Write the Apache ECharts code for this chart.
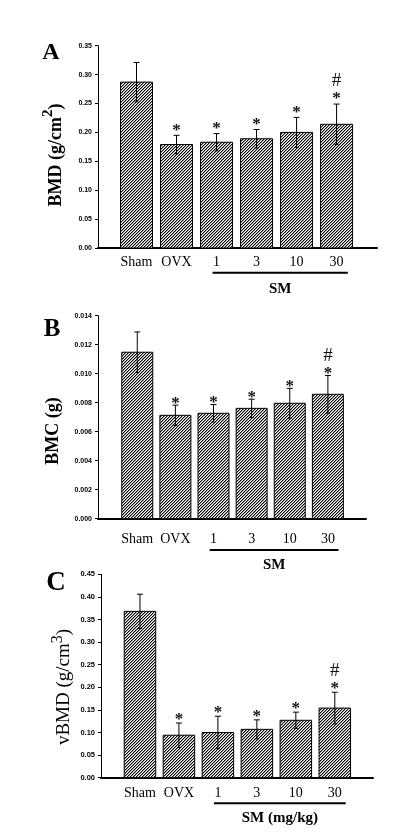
<!DOCTYPE html>
<html><head><meta charset="utf-8">
<script src="https://cdn.jsdelivr.net/npm/echarts@6/dist/echarts.min.js"></script>
<style>html,body{margin:0;padding:0;background:#fff}#c{width:403px;height:833px}</style>
</head><body><div id="c"></div>
<script>
// ---- data ----
const categories = ['Sham', 'OVX', '1', '3', '10', '30'];
const bmdMean  = [0.287, 0.179, 0.183, 0.189, 0.200, 0.214];
const bmdSD    = [0.034, 0.016, 0.015, 0.016, 0.026, 0.035];
const bmcMean  = [0.01148, 0.00713, 0.00727, 0.00761, 0.00796, 0.00858];
const bmcSD    = [0.0014, 0.0007, 0.0006, 0.00063, 0.00103, 0.0013];
const vbmdMean = [0.368, 0.094, 0.100, 0.107, 0.127, 0.154];
const vbmdSD   = [0.038, 0.027, 0.036, 0.021, 0.018, 0.035];
const marks    = ['', '*', '*', '*', '*', '*#'];
const bmdAxis  = {max: 0.35, interval: 0.05, decimals: 2};
const bmcAxis  = {max: 0.014, interval: 0.002, decimals: 3};
const vbmdAxis = {max: 0.45, interval: 0.05, decimals: 2};
const groupLabels = ['SM', 'SM', 'SM (mg/kg)'];

// ---- hatch pattern ----
function makePattern() {
  const c = document.createElement('canvas');
  c.width = 6; c.height = 6;
  const ctx = c.getContext('2d');
  const img = ctx.createImageData(6, 6);
  for (let y = 0; y < 6; y++) for (let x = 0; x < 6; x++) {
    const k = ((x + y) % 3 + 3) % 3;
    const v = k === 0 ? 0 : (k === 1 ? 150 : 255);
    const p = (y * 6 + x) * 4;
    img.data[p] = v; img.data[p + 1] = v; img.data[p + 2] = v; img.data[p + 3] = 255;
  }
  ctx.putImageData(img, 0, 0);
  return {image: c, repeat: 'repeat'};
}
const hatch = makePattern();

const SERIF = 'Liberation Serif';
const panels = [
  {mean: bmdMean, sd: bmdSD, ax: bmdAxis, left: 98, right: 26, top: 45.7, height: 202.3, xmin: -0.9625, xmax: 6.01, bw: 32, labelGap: 14.7, lineGap: 24.7, smGap: 41, starGap: 8, tickFont: 7},
  {mean: bmcMean, sd: bmcSD, ax: bmcAxis, left: 98, right: 37, top: 315.7, height: 203, xmin: -1.03, xmax: 6.0, bw: 31, labelGap: 20.6, lineGap: 31.3, smGap: 46.5, starGap: 4.5, tickFont: 7},
  {mean: vbmdMean, sd: vbmdSD, ax: vbmdAxis, left: 101, right: 30, top: 574.3, height: 203.4, xmin: -1.0, xmax: 5.98, bw: 31.5, labelGap: 15.6, lineGap: 25.6, smGap: 40.5, starGap: 6.5, tickFont: 7.5}
];

const grid = [], xAxis = [], yAxis = [], series = [];
panels.forEach((p, gi) => {
  grid.push({left: p.left, right: p.right, top: p.top, height: p.height});
  xAxis.push({type: 'value', gridIndex: gi, min: p.xmin, max: p.xmax,
    axisLine: {show: true, lineStyle: {color: '#000', width: 2}},
    axisTick: {show: false}, axisLabel: {show: false}, splitLine: {show: false}});
  yAxis.push({type: 'value', gridIndex: gi, min: 0, max: p.ax.max, interval: p.ax.interval,
    axisLine: {show: true, onZero: false, lineStyle: {color: '#000', width: 1}},
    axisTick: {show: true, inside: false, length: 3, lineStyle: {color: '#000'}},
    axisLabel: {fontSize: p.tickFont, fontWeight: 'bold', fontFamily: 'Liberation Sans', color: '#000', margin: 6,
      formatter: v => v.toFixed(p.ax.decimals)},
    splitLine: {show: false}});
  series.push({
    type: 'custom', xAxisIndex: gi, yAxisIndex: gi, clip: false,
    data: categories.map((c, i) => [i, p.mean[i], p.sd[i]]),
    renderItem: (params, api) => {
      const i = api.value(0), m = api.value(1), s = api.value(2);
      const base = api.coord([i, 0]);
      const top = api.coord([i, m]);
      const eT = api.coord([i, m + s]);
      const eB = api.coord([i, m - s]);
      const cx = base[0];
      const children = [
        {type: 'rect', shape: {x: cx - p.bw / 2, y: top[1], width: p.bw, height: base[1] - top[1]},
          style: {fill: hatch, stroke: '#000', lineWidth: 1}},
        {type: 'line', shape: {x1: cx, y1: eT[1], x2: cx, y2: eB[1]}, style: {stroke: '#000', lineWidth: 1}},
        {type: 'line', shape: {x1: cx - 3, y1: eT[1], x2: cx + 3, y2: eT[1]}, style: {stroke: '#000', lineWidth: 1}},
        {type: 'line', shape: {x1: cx - 2, y1: eB[1], x2: cx + 2, y2: eB[1]}, style: {stroke: '#000', lineWidth: 1}},
        {type: 'text', style: {text: categories[params.dataIndex], x: cx, y: base[1] + p.labelGap,
          align: 'center', verticalAlign: 'middle', font: '14px "' + SERIF + '"', fill: '#000'}}
      ];
      const mk = marks[params.dataIndex];
      if (mk.indexOf('*') >= 0) {
        children.push({type: 'text', style: {text: '*', x: cx, y: eT[1] - p.starGap + 3,
          align: 'center', verticalAlign: 'middle', font: 'bold 17px "' + SERIF + '"', fill: '#111'}});
      }
      if (mk.indexOf('#') >= 0) {
        children.push({type: 'text', style: {text: '#', x: cx, y: eT[1] - p.starGap - 15,
          align: 'center', verticalAlign: 'middle', font: '19px "' + SERIF + '"', fill: '#111'}});
      }
      return {type: 'group', children};
    }
  });
  // SM group underline and label
  series.push({
    type: 'custom', xAxisIndex: gi, yAxisIndex: gi, clip: false, silent: true,
    data: [[2, 5]],
    renderItem: (params, api) => {
      const a = api.coord([api.value(0) - 0.1, 0]);
      const b = api.coord([api.value(1) + 0.28, 0]);
      const mid = (a[0] + b[0]) / 2;
      return {type: 'group', children: [
        {type: 'line', shape: {x1: a[0], y1: a[1] + p.lineGap, x2: b[0], y2: a[1] + p.lineGap}, style: {stroke: '#000', lineWidth: 2}},
        {type: 'text', style: {text: groupLabels[gi], x: mid, y: a[1] + p.smGap, align: 'center', verticalAlign: 'middle',
          font: 'bold 15px "' + SERIF + '"', fill: '#000'}}
      ]};
    }
  });
});

const graphic = [
  {type: 'text', x: 51, y: 53, style: {text: 'A', font: 'bold 24px "' + SERIF + '"', align: 'center', verticalAlign: 'middle', fill: '#000'}},
  {type: 'text', x: 52, y: 330, style: {text: 'B', font: 'bold 25px "' + SERIF + '"', align: 'center', verticalAlign: 'middle', fill: '#000'}},
  {type: 'text', x: 56, y: 583, style: {text: 'C', font: 'bold 27px "' + SERIF + '"', align: 'center', verticalAlign: 'middle', fill: '#000'}},
  {type: 'text', x: 53, y: 155, rotation: Math.PI / 2, style: {text: '{a|BMD (g/cm}{s|2}{a|)}', align: 'center', verticalAlign: 'middle',
    rich: {a: {fontFamily: SERIF, fontWeight: 'bold', fontSize: 18, lineHeight: 24, verticalAlign: 'bottom'},
           s: {fontFamily: SERIF, fontWeight: 'bold', fontSize: 15, lineHeight: 24, verticalAlign: 'top', padding: [0, 0, 8, 0]}}}},
  {type: 'text', x: 53, y: 431, rotation: Math.PI / 2, style: {text: 'BMC (g)', align: 'center', verticalAlign: 'middle',
    font: 'bold 18px "' + SERIF + '"', fill: '#000'}},
  {type: 'text', x: 62, y: 687, rotation: Math.PI / 2, style: {text: '{a|vBMD (g/cm}{s|3}{a|)}', align: 'center', verticalAlign: 'middle',
    rich: {a: {fontFamily: SERIF, fontSize: 19, lineHeight: 24, verticalAlign: 'bottom'},
           s: {fontFamily: SERIF, fontSize: 16, lineHeight: 24, verticalAlign: 'top', padding: [0, 0, 8, 0]}}}}
];

const chart = echarts.init(document.getElementById('c'), null, {renderer: 'canvas'});
chart.setOption({animation: false, backgroundColor: '#fff', grid, xAxis, yAxis, series, graphic});
</script></body></html>
